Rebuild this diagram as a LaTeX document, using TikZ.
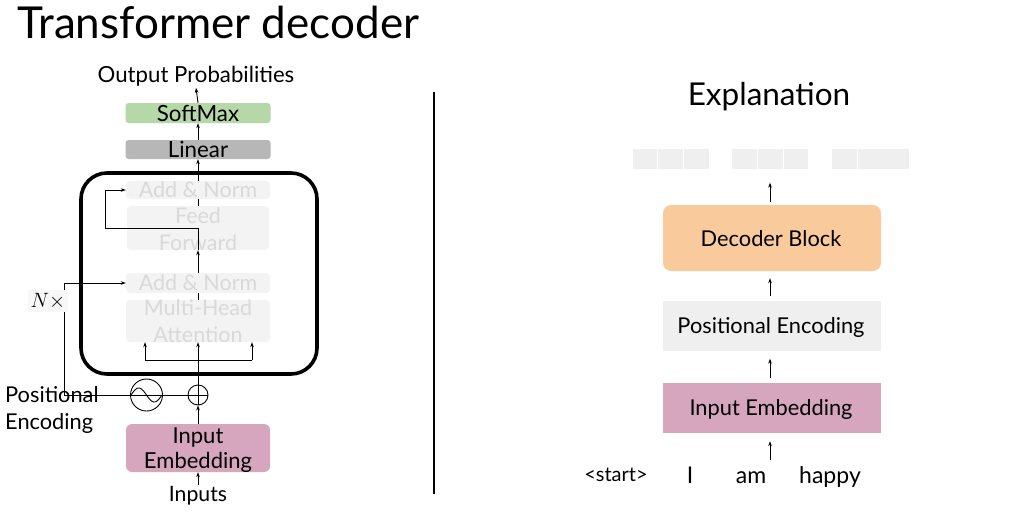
\documentclass[tikz,border=0pt]{standalone}
\usepackage{fontspec}
\setmainfont{Lato}
\usetikzlibrary{arrows.meta,calc}
\definecolor{cgreen}{HTML}{B6D7A8}
\definecolor{cgray}{HTML}{B7B7B7}
\definecolor{clight}{HTML}{F3F3F3}
\definecolor{cltext}{HTML}{D9D9D9}
\definecolor{cpink}{HTML}{D5A6BD}
\definecolor{corange}{HTML}{F9CB9C}
\definecolor{ccell}{HTML}{EFEFEF}
\newcommand{\fsz}[1]{\fontsize{#1}{#1}\selectfont}
\begin{document}
\begin{tikzpicture}[x=1pt,y=-1pt,
  arr/.style={line width=0.9pt,-{Stealth[length=5pt,width=3.6pt]}},
  ln/.style={line width=0.9pt},
  solidbox/.style={inner sep=0pt, rounded corners=3pt, minimum width=145pt},
  ghost/.style={fill=clight, inner sep=0pt, rounded corners=4pt, minimum width=144pt},
  ghosttext/.style={text=cltext, font=\fontsize{21.5}{27}\selectfont, align=center, inner sep=0pt},
  boxtext/.style={font=\fontsize{22}{25}\selectfont, align=center, inner sep=0pt},
  rbox/.style={inner sep=0pt, minimum width=218pt, minimum height=50pt},
  rtext/.style={inner sep=0pt, font=\fsz{21.8}},
  cell/.style={fill=ccell, draw=white, line width=0.8pt, inner sep=0pt, minimum height=21pt}
]
\useasboundingbox (0,0) rectangle (1033,514);
\fill[white] (0,0) rectangle (1033,514);

% title
\node[anchor=base west, inner sep=0pt, font=\fsz{44}] (title) at (17,38) {Transformer decoder};

% separator
\coordinate (sepT) at (434,92);
\coordinate (sepB) at (434,494);
\draw[line width=2.6pt] (sepT) -- (sepB);

% ---------------- left: decoder diagram
\node[font=\fsz{22.2}, inner sep=1pt] (outp) at (196,76.5) {Output Probabilities};
\node[solidbox, fill=cgreen, minimum height=20pt, font=\fsz{22.3}] (soft) at (198,113) {SoftMax};
\node[solidbox, fill=cgray, minimum height=19pt, font=\fsz{22.3}] (lin) at (198,149.5) {Linear};

\node[draw, line width=3.6pt, rounded corners=26pt, minimum width=236pt, minimum height=201pt] (blk) at (199,273.5) {};

\node[ghost, minimum height=18pt] (an1) at (198,190) {};
\node[ghosttext] (an1t) at (an1.center) {Add \& Norm};
\node[ghost, minimum height=44pt, minimum width=142pt] (ff) at (198,228) {};
\node[ghosttext] (fft) at (198,229) {Feed\\Forward};
\node[ghost, minimum height=20pt] (an2) at (198,283) {};
\node[ghosttext] (an2t) at (an2.center) {Add \& Norm};
\node[ghost, minimum height=42pt] (mha) at (198,321) {};
\node[ghosttext] (mhat) at (198,321.5) {Multi-Head\\Attention};

\node[solidbox, fill=cpink, minimum height=48pt, minimum width=144pt, rounded corners=6pt] (emb) at (198,448) {};
\node[boxtext] (embt) at (198,450.5) {Input\\Embedding};
\node[font=\fsz{21.2}, inner sep=1pt] (inp) at (198,496) {Inputs};

\node[circle, draw, line width=0.9pt, minimum size=20pt, inner sep=0pt] (plus) at (198,395) {};
\node[circle, draw, line width=0.9pt, minimum size=32pt, inner sep=0pt] (sine) at (146.5,395) {};
\draw[ln] plot[domain=0:360, samples=40, smooth] ({131+\x/360*31},{395-7*sin(\x)});

% connectors
\draw[arr] (an1.north) -- (an1.north |- lin.south);
\draw[arr] (lin.north) -- (soft.south);
\draw[arr] (soft.north) -- (outp.south);
\draw[ln] (an1.south) -- (ff.north);
\draw[arr] (an2.north) -- (ff.south);
\coordinate (rA) at (105,228);
\draw[arr] (ff.south) -- (ff.center) -- (rA) |- (an1.west);
\draw[ln] (an2.south) -- (mha.north);
\coordinate (rB) at (64,395);
\draw[arr] (plus.east) -- (rB) |- (an2.west);
\draw[ln] (plus.north) -- (plus.south);
\draw[arr] (plus.north) -- (mha.south);
\coordinate (bl) at (145,360);
\coordinate (bR) at (252,360);
\draw[ln] (bl) -- (bR);
\draw[arr] (bl) -- (bl |- mha.south);
\draw[arr] (bR) -- (bR |- mha.south);
\draw[arr] (emb.north) -- (plus.south);
\draw[arr] (inp.north) -- (emb.south);

\node[fill=white!97!black, inner sep=3pt, font=\fsz{22}] (nx) at (48,301) {$N\times$};
\node[anchor=west, align=left, inner sep=0pt, font=\fontsize{21.8}{27}\selectfont] (pos) at (5,410) {Positional\\Encoding};

% ---------------- right: explanation
\node[font=\fsz{31.5}] (expl) at (769,97) {Explanation};

\node[cell, minimum width=25.7pt] (c11) at (644.8,158.8) {};
\node[cell, minimum width=25.7pt] (c12) at (670.5,158.8) {};
\node[cell, minimum width=25.7pt] (c13) at (696.2,158.8) {};
\node[cell, minimum width=25.7pt] (c21) at (744.5,158.8) {};
\node[cell, minimum width=25.7pt] (c22) at (770.2,158.8) {};
\node[cell, minimum width=25.7pt] (c23) at (795.9,158.8) {};
\node[cell, minimum width=26pt] (c31) at (844.7,158.8) {};
\node[cell, minimum width=51.3pt] (c32) at (883.3,158.8) {};

\node[rbox, fill=corange, rounded corners=8pt, minimum height=66pt] (dec) at (772,238) {};
\node[rtext] (dect) at (771,239) {Decoder Block};
\node[rbox, fill=ccell] (pe) at (772,325.5) {};
\node[rtext] (pet) at (771,327) {Positional Encoding};
\node[rbox, fill=cpink] (ie) at (772,408) {};
\node[rtext] (iet) at (771,409.5) {Input Embedding};

\node[anchor=base, inner sep=0pt, font=\fsz{20}] (wstart) at (616,481) {<start>};
\node[anchor=base, inner sep=0pt, font=\fsz{23}] (wI) at (690,483) {I};
\node[anchor=base, inner sep=0pt, font=\fsz{23}] (wam) at (751,483) {am};
\node[anchor=base, inner sep=0pt, font=\fsz{23}] (whappy) at (830,483) {happy};

\coordinate (wa) at (770,460);
\draw[arr, shorten >=8pt] (wa) -- (wa |- ie.south);
\draw[arr, shorten <=5pt, shorten >=8pt] (ie.north -| wa) -- (pe.south -| wa);
\draw[arr, shorten <=4pt, shorten >=7pt] (pe.north -| wa) -- (dec.south -| wa);
\draw[arr, shorten <=3pt, shorten >=13pt] (dec.north -| wa) -- (c22.south -| wa);
\end{tikzpicture}
\end{document}
